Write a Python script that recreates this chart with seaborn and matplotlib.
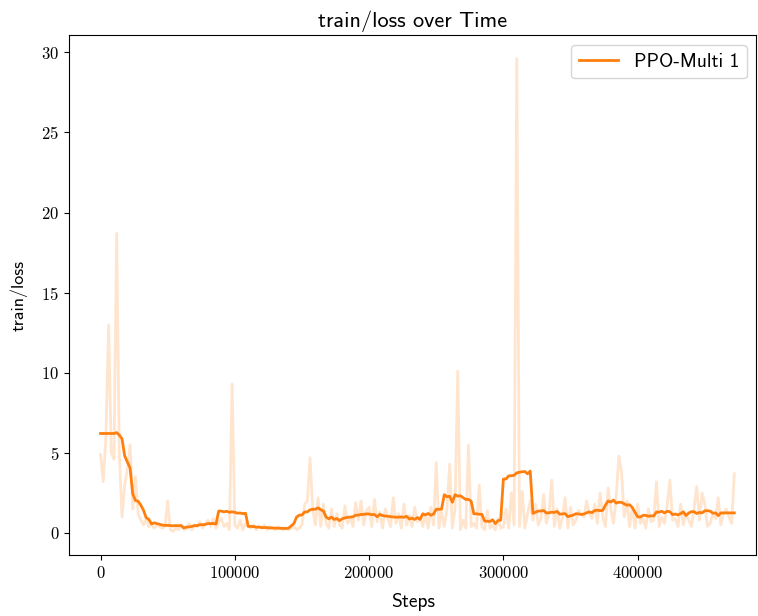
import numpy as np
import pandas as pd
import seaborn as sns
import matplotlib.pyplot as plt
from matplotlib.ticker import FuncFormatter

# logged every 2000 steps
steps = np.arange(0, 474000, 2000)

# raw train/loss
loss_raw = [
    4.9, 3.2, 6.0, 13.0, 5.0, 4.6, 18.7, 4.9, 1.0, 3.0,
    4.0, 5.5, 1.5, 3.5, 1.2, 0.8, 0.5, 0.9, 0.4, 0.5,
    0.3, 0.5, 0.4, 0.3, 0.4, 2.0, 0.2, 0.1, 0.3, 0.2,
    0.5, 0.2, 0.3, 0.6, 0.2, 0.5, 0.4, 0.7, 0.3, 0.6,
    0.8, 0.4, 0.9, 0.3, 0.7, 0.9, 0.4, 0.6, 0.2, 9.3,
    0.5, 0.3, 0.8, 0.2, 0.6, 0.4, 0.3, 0.5, 0.2, 0.4,
    0.3, 0.5, 0.2, 0.4, 0.3, 0.2, 0.4, 0.3, 0.2, 0.3,
    0.2, 0.3, 0.4, 0.2, 0.3, 0.5, 1.8, 2.0, 4.7, 1.5,
    0.5, 2.2, 0.4, 1.8, 0.6, 0.3, 1.5, 0.4, 1.2, 0.5,
    0.3, 1.7, 0.6, 1.0, 0.4, 1.9, 0.8, 2.0, 0.5, 1.4,
    1.6, 0.4, 2.1, 0.7, 1.3, 0.3, 1.5, 0.9, 0.4, 2.2,
    0.6, 1.2, 0.3, 1.8, 0.5, 1.1, 0.4, 1.6, 0.7, 1.0,
    0.4, 1.2, 0.3, 1.6, 0.5, 4.4, 0.3, 1.4, 0.4, 1.5,
    4.3, 0.3, 1.5, 10.1, 0.2, 0.8, 0.3, 5.5, 0.4, 0.6,
    0.3, 3.0, 0.4, 0.2, 1.4, 0.3, 0.5, 0.2, 0.9, 0.3,
    0.4, 1.5, 0.3, 2.5, 0.5, 29.6, 0.4, 2.6, 0.3, 1.2,
    2.0, 0.8, 1.8, 0.5, 0.9, 2.4, 0.6, 1.2, 3.3, 0.4,
    1.5, 0.3, 1.0, 2.2, 0.3, 1.6, 0.5, 0.8, 1.4, 1.2,
    1.0, 2.0, 1.2, 0.9, 1.8, 0.6, 2.5, 1.0, 0.4, 2.8,
    1.5, 0.6, 2.2, 4.8, 3.8, 1.0, 2.0, 0.4, 1.6, 0.3,
    1.8, 0.6, 0.9, 0.3, 1.5, 0.7, 0.8, 3.2, 0.4, 1.0,
    0.6, 1.7, 3.3, 0.8, 0.9, 0.4, 1.8, 0.5, 1.2, 0.8,
    0.4, 1.5, 2.9, 0.8, 2.5, 1.8, 0.4, 0.6, 1.2, 0.9,
    2.2, 0.5, 1.2, 1.5, 1.0, 0.6, 3.7,
]

run_label = "PPO-Multi 1"
color = "#ff7f0e"

df = pd.DataFrame({"step": steps, "loss": loss_raw})
# centred moving average, edges padded with first/last value
df["smooth"] = df["loss"].rolling(11, center=True).mean().bfill().ffill()

plt.rcParams["font.family"] = "cmss10"
plt.rcParams["mathtext.fontset"] = "cm"
plt.rcParams["axes.unicode_minus"] = False

fig, ax = plt.subplots(figsize=(7.58, 6.16), dpi=100)
sns.lineplot(data=df, x="step", y="loss", color=color, alpha=0.2, linewidth=2, ax=ax)
sns.lineplot(data=df, x="step", y="smooth", color=color, linewidth=2, label=run_label, ax=ax)

ax.set_title("train/loss over Time", fontsize=16)
ax.set_xlabel("Steps", fontsize=14, labelpad=9)
ax.set_ylabel("train/loss", fontsize=13, labelpad=10)
ax.set_xlim(-23500, 488500)
ax.xaxis.set_major_formatter(FuncFormatter(lambda v, p: f"${int(v)}$"))
ax.yaxis.set_major_formatter(FuncFormatter(lambda v, p: f"${int(v)}$"))
ax.tick_params(labelsize=12)
ax.legend(loc="upper right", fontsize=14)

fig.subplots_adjust(left=0.091, right=0.998, top=0.943, bottom=0.099)
plt.savefig("out.png")
